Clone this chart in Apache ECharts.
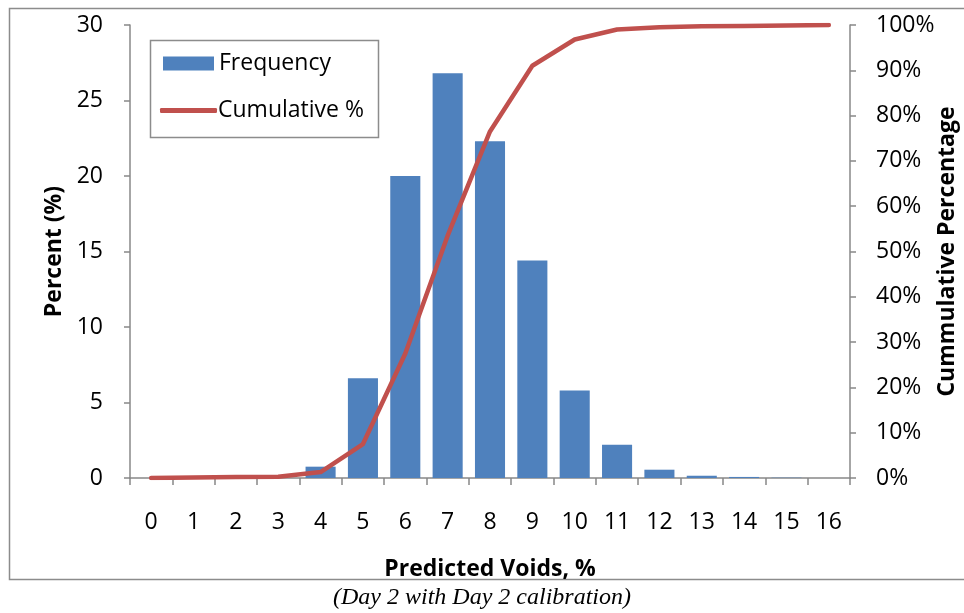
<!DOCTYPE html>
<html><head><meta charset="utf-8">
<script src="https://cdn.jsdelivr.net/npm/echarts@6/dist/echarts.min.js"></script>
<style>html,body{margin:0;padding:0;background:#fff}#c{width:964px;height:613px}</style>
</head><body><div id="c"></div>
<script>
const categories = ['0','1','2','3','4','5','6','7','8','9','10','11','12','13','14','15','16'];
const frequency = [0, 0, 0, 0, 0.75, 6.6, 20.0, 26.8, 22.3, 14.4, 5.8, 2.2, 0.55, 0.15, 0.07, 0.02, 0];
const cumulative = [0, 0.1, 0.2, 0.3, 1.3, 7.5, 27.5, 53.5, 76.5, 91, 96.8, 99, 99.5, 99.7, 99.8, 99.9, 100];
const leftTicks = {min: 0, max: 30, interval: 5};
const rightTicks = {min: 0, max: 100, interval: 10};

const FONT = 'Open Sans';
const axisGray = '#888888';
const chart = echarts.init(document.getElementById('c'));
chart.setOption({
  animation: false,
  textStyle: {fontFamily: FONT, color: '#000'},
  grid: {left: 130, right: 114, top: 25, bottom: 135, containLabel: false, outerBoundsMode: 'none'},
  legend: [{
    left: 163, top: 52, padding: 0,
    itemWidth: 51, itemHeight: 14, itemGap: 0,
    textStyle: {fontFamily: FONT, fontSize: 23, color: '#000', padding: [0, 0, 0, 0]},
    data: [{name: 'Frequency', icon: 'rect'}]
  }, {
    left: 160, top: 99, padding: 0,
    itemWidth: 57, itemHeight: 5, itemGap: 0,
    textStyle: {fontFamily: FONT, fontSize: 23, color: '#000', padding: [0, 0, 0, -4]},
    data: [{name: 'Cumulative %', icon: 'roundRect'}]
  }],
  xAxis: {
    type: 'category', data: categories, boundaryGap: true,
    name: 'Predicted Voids, %', nameLocation: 'middle', nameGap: 80, nameMoveOverlap: false,
    nameTextStyle: {fontFamily: FONT, fontSize: 23, fontWeight: 'bold', color: '#000'},
    axisLine: {lineStyle: {color: axisGray, width: 1.5}},
    axisTick: {show: true, length: 7, alignWithLabel: false, lineStyle: {color: axisGray, width: 1.5}},
    axisLabel: {fontFamily: FONT, fontSize: 23, color: '#000', margin: 33, interval: 0}
  },
  yAxis: [{
    type: 'value', position: 'left', min: leftTicks.min, max: leftTicks.max, interval: leftTicks.interval,
    name: 'Percent (%)', nameLocation: 'middle', nameGap: 64, nameRotate: 90, nameMoveOverlap: false,
    nameTextStyle: {fontFamily: FONT, fontSize: 23, fontWeight: 'bold', color: '#000'},
    axisLine: {show: true, lineStyle: {color: axisGray, width: 1.5}},
    axisTick: {show: true, length: 6, lineStyle: {color: axisGray, width: 1.5}},
    splitLine: {show: false},
    axisLabel: {fontFamily: FONT, fontSize: 23, color: '#000', margin: 27}
  }, {
    type: 'value', position: 'right', min: rightTicks.min, max: rightTicks.max, interval: rightTicks.interval,
    name: 'Cummulative Percentage', nameLocation: 'middle', nameGap: 86, nameRotate: 90, nameMoveOverlap: false,
    nameTextStyle: {fontFamily: FONT, fontSize: 23, fontWeight: 'bold', color: '#000'},
    axisLine: {show: true, lineStyle: {color: axisGray, width: 1.5}},
    axisTick: {show: true, length: 6, lineStyle: {color: axisGray, width: 1.5}},
    splitLine: {show: false},
    axisLabel: {fontFamily: FONT, fontSize: 23, color: '#000', margin: 26, formatter: '{value}%'}
  }],
  series: [{
    name: 'Frequency', type: 'bar', data: frequency, yAxisIndex: 0,
    barCategoryGap: '29%',
    itemStyle: {color: '#4F81BD'}
  }, {
    name: 'Cumulative %', type: 'line', data: cumulative, yAxisIndex: 1,
    symbol: 'none', smooth: false,
    lineStyle: {color: '#C0504D', width: 4.5, cap: 'round', join: 'round'},
    itemStyle: {color: '#C0504D'}
  }],
  graphic: [{
    type: 'rect', shape: {x: 9.5, y: 8.5, width: 970, height: 571},
    style: {fill: 'none', stroke: '#8c8c8c', lineWidth: 1.5}, silent: true, z: -1
  }, {
    type: 'rect', shape: {x: 150.5, y: 40.5, width: 228, height: 97},
    style: {fill: 'none', stroke: '#8c8c8c', lineWidth: 1.5}, silent: true, z: 10
  }, {
    type: 'text', left: 'center', top: 586,
    style: {text: '(Day 2 with Day 2 calibration)', font: 'italic 24px "Liberation Serif", "DejaVu Serif", serif', fill: '#000'}
  }]
});
</script></body></html>
